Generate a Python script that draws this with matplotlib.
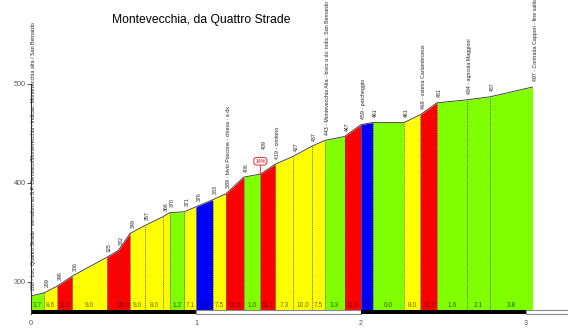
import matplotlib
matplotlib.use("Agg")
import matplotlib.pyplot as plt
from matplotlib.patches import Rectangle

plt.rcParams['font.family'] = ['Liberation Sans', 'DejaVu Sans']

title = "Montevecchia, da Quattro Strade"

# distance from start (km) and altitude (m) at each point of the climb
dist_km = [0.00, 0.08, 0.16, 0.25, 0.46, 0.53, 0.60, 0.69, 0.80, 0.84,
           0.93, 1.00, 1.10, 1.18, 1.29, 1.39, 1.48, 1.59, 1.70, 1.78,
           1.90, 2.00, 2.07, 2.26, 2.36, 2.46, 2.64, 2.78, 3.04]
altitude = [286, 289, 296, 306, 325, 332, 349, 357, 366, 370,
            371, 376, 383, 389, 406, 409, 419, 427, 437, 443,
            447, 459, 461, 461, 469, 481, 484, 487, 497]

point_labels = [
    "286 - Loc. Quattro Strade - semaforo su S.P. Cernusco/Montevecchia - indicaz. Montevecchia alta / San Bernardo",
    "289", "296", "306", "325", "332", "349", "357", "366", "370",
    "371", "376", "383", "389 - bivio Pascone - chiesa - a dx", "406", "409",
    "419 - cimitero", "427", "437",
    "443 - Montevecchia Alta - bivio a dx: indic. San Bernardo",
    "447", "459 - parcheggio", "461", "461", "469 - osteria Carlambroeus",
    "481", "484 - agricola Maggioni", "487",
    "497 - Contrada Cappori - fine salita",
]

# gradient (%) shown for each segment; None where the segment is too short
grade_labels = ["3.7", "8.6", "11.0", "9.0", None, "20.0", "9.0", "8.0", None, "1.2",
                "7.1", "7.0", "7.5", "16.8", "1.0", "11.1", "7.3", "10.0", "7.5", "3.3",
                "11.0", "2.5", "0.0", "8.0", "12.3", "1.6", "2.1", "3.8"]
# colour class of each segment
seg_class = ["g", "y", "r", "y", "r", "r", "y", "y", "y", "g",
             "y", "b", "y", "r", "g", "r", "y", "y", "y", "g",
             "r", "b", "g", "y", "r", "g", "g", "g"]

# steep ramp marker
ramp_km = 1.39
ramp_text = "14%"

fill_col = {"g": "#80ff00", "y": "#ffff00", "r": "#ff0000", "b": "#0000ff"}
text_col = {"g": "#2e6400", "y": "#6e6e00", "r": "#7a0000", "b": "#00006e"}

px_per_km = 165.0
px_per_m = 0.99
W, H = 568, 336
ax_left_px, ax_bottom_px = 31, 314
y_bottom = 300 - (ax_bottom_px - 282) / px_per_m
y_top = y_bottom + ax_bottom_px / px_per_m
base = y_bottom + 4 / px_per_m

fig = plt.figure(figsize=(W / 100, H / 100), dpi=100)
ax = fig.add_axes([ax_left_px / W, (H - ax_bottom_px) / H,
                   (W - ax_left_px) / W, ax_bottom_px / H])
ax.set_xlim(0, (W - ax_left_px) / px_per_km)
ax.set_ylim(y_bottom, y_top)

for i, c in enumerate(seg_class):
    x0, x1 = dist_km[i], dist_km[i + 1]
    ax.fill_between([x0, x1], [altitude[i], altitude[i + 1]], base,
                    color=fill_col[c], lw=0, zorder=1)
    if grade_labels[i]:
        ax.text((x0 + x1) / 2, base + 4.2, grade_labels[i], ha="center",
                va="center", fontsize=4.8, color=text_col[c], zorder=4)

# dotted separators between segments
for i in range(1, len(dist_km) - 1):
    ax.plot([dist_km[i], dist_km[i]], [base, altitude[i]], color="#404040",
            lw=0.55, ls=(0, (1.5, 1.5)), zorder=2)

ax.plot(dist_km, altitude, color="#303030", lw=0.6, zorder=3)

# ramp marker
ramp_idx = dist_km.index(ramp_km)
ramp_alt = altitude[ramp_idx]
ax.annotate(ramp_text, (ramp_km, ramp_alt), xytext=(ramp_km, ramp_alt + 13),
            ha="center", va="center", fontsize=3.8, color="#e00000",
            bbox=dict(boxstyle="round,pad=0.25,rounding_size=0.6", fc="white",
                      ec="#e03030", lw=0.7),
            arrowprops=dict(arrowstyle="-", color="#e03030", lw=0.7,
                            shrinkA=0, shrinkB=0), zorder=6)

# point labels (the one at the ramp sits above the marker)
for i, (x, a, t) in enumerate(zip(dist_km, altitude, point_labels)):
    dx = 3.2 if i == ramp_idx else 2.0
    dy = 18.0 if i == ramp_idx else 4.0
    ax.annotate(t, (x, a), xytext=(dx, dy), textcoords="offset points",
                rotation=90, ha="center", va="bottom", fontsize=3.8,
                color="#222222", zorder=5, annotation_clip=False)

# km scale bar
bar_h = 4 / px_per_m
xmax = ax.get_xlim()[1]
for k in range(4):
    right = min(k + 1, xmax)
    if k % 2 == 0:
        ax.add_patch(Rectangle((k, y_bottom), right - k, bar_h, fc="black",
                               ec="black", lw=0, zorder=3, clip_on=False))
    else:
        ax.add_patch(Rectangle((k, y_bottom + 0.4), right - k, bar_h - 0.8,
                               fc="white", ec="#888888", lw=0.8, zorder=3,
                               clip_on=False))

ax.set_xticks([0, 1, 2, 3])
ax.set_yticks([300, 400, 500])
ax.tick_params(axis="x", length=0, pad=4, labelsize=5.2, labelcolor="#555555")
ax.tick_params(axis="y", length=3, width=0.6, pad=0.6, labelsize=5.2,
               labelcolor="#555555", color="#333333")
for s in ("top", "right", "bottom"):
    ax.spines[s].set_visible(False)
ax.spines["left"].set_bounds(y_bottom, 500)
ax.spines["left"].set_color("#333333")
ax.spines["left"].set_linewidth(0.8)
ax.spines["left"].set_zorder(4)

fig.text(201 / W, 1 - 20 / H, title, ha="center", va="center",
         fontsize=8.7, color="black")

fig.savefig("out.png", dpi=100)
